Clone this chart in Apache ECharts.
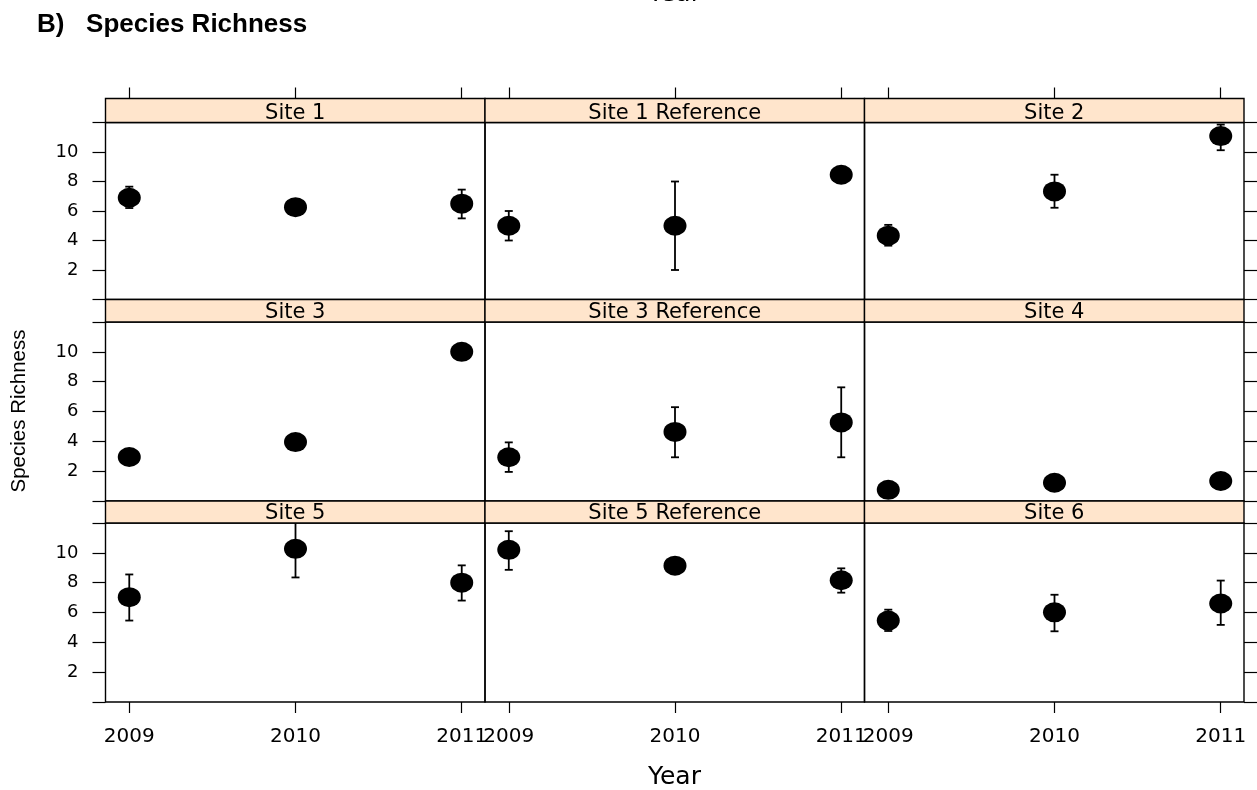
<!DOCTYPE html>
<html>
<head>
<meta charset="utf-8">
<title>Species Richness</title>
<script src="https://cdn.jsdelivr.net/npm/echarts@6/dist/echarts.min.js"></script>
<style>
    html, body {margin: 0; padding: 0; background: #fff;}
    #species_richness {width: 1257px; height: 790px;}
</style>
</head>
<body>
<div id="species_richness"></div>
<script>
var years = [2009, 2010, 2011];
var sites = ['Site 1', 'Site 1 Reference', 'Site 2',
             'Site 3', 'Site 3 Reference', 'Site 4',
             'Site 5', 'Site 5 Reference', 'Site 6'];

// mean species richness per site and year, with lower / upper error bar ends
var richness_mean = [
    [6.9, 6.26, 6.5], [5.0, 5.0, 8.46], [4.33, 7.33, 11.08],
    [2.95, 3.95, 10.0], [2.93, 4.63, 5.27], [0.75, 1.22, 1.34],
    [7.03, 10.27, 8.0], [10.2, 9.14, 8.16], [5.46, 6.01, 6.6]
];
var richness_low = [
    [6.2, 6.0, 5.5], [4.0, 2.0, 8.25], [3.65, 6.22, 10.12],
    [2.75, 3.75, 9.8], [1.95, 2.93, 2.93], [0.55, 1.0, 1.1],
    [5.46, 8.35, 6.8], [8.86, 8.9, 7.33], [4.76, 4.74, 5.17]
];
var richness_high = [
    [7.65, 6.5, 7.45], [6.0, 8.0, 8.65], [5.06, 8.46, 11.86],
    [3.15, 4.15, 10.2], [3.93, 6.29, 7.62], [0.95, 1.45, 1.6],
    [8.55, 12.2, 9.16], [11.45, 9.4, 8.96], [6.19, 7.19, 8.14]
];
var y_ticks = [0, 2, 4, 6, 8, 10, 12];
var y_labels = [2, 4, 6, 8, 10];

var richness_dom = document.getElementById('species_richness');
var richness_chart = echarts.init(richness_dom);

// trellis layout, 3 x 3 panels with a strip on top of each
var col_left = 105.5, col_width = 379.5;
var strip_top = [98.5, 299.5, 501];
var panel_top = [122.5, 322, 523];
var panel_height = [177, 179, 179];
var x_min = 2008.857, x_max = 2011.14;
var font = 'DejaVu Sans';
var line_black = {color: '#000', width: 1.2};

var grids = [], x_axes = [], y_axes = [], series = [], graphics = [];

function render_error_bar(params, api) {
    var x = api.value(0);
    var lo = api.coord([x, api.value(1)]);
    var hi = api.coord([x, api.value(2)]);
    var box = params.coordSys;
    var top = Math.max(hi[1], box.y);
    var bottom = Math.min(lo[1], box.y + box.height);
    var cap = 4;
    var style = {stroke: '#000', lineWidth: 1.8};
    var children = [{type: 'line', shape: {x1: lo[0], y1: top, x2: lo[0], y2: bottom}, style: style}];
    if (hi[1] >= box.y) {
        children.push({type: 'line', shape: {x1: hi[0] - cap, y1: hi[1], x2: hi[0] + cap, y2: hi[1]}, style: style});
    }
    if (lo[1] <= box.y + box.height) {
        children.push({type: 'line', shape: {x1: lo[0] - cap, y1: lo[1], x2: lo[0] + cap, y2: lo[1]}, style: style});
    }
    return {type: 'group', children: children};
}

function plain_year(v) {
    return String(Math.round(v));
}

sites.forEach(function (site, i) {
    var row = Math.floor(i / 3), col = i % 3;
    var left = col_left + col * col_width;

    // panel
    var g = grids.length;
    grids.push({
        left: left, top: panel_top[row], width: col_width, height: panel_height[row],
        show: true, borderColor: '#000', borderWidth: 1.4, backgroundColor: 'transparent'
    });
    var xi = x_axes.length;
    x_axes.push({
        gridIndex: g, type: 'value', min: x_min, max: x_max, position: 'bottom',
        axisLine: {show: false, onZero: false},
        axisTick: {show: row === 2, customValues: years, length: 11, lineStyle: line_black},
        axisLabel: {show: row === 2, customValues: years, formatter: plain_year, margin: 25,
            fontFamily: font, fontSize: 20, color: '#000'},
        splitLine: {show: false}
    });
    var yi = y_axes.length;
    y_axes.push({
        gridIndex: g, type: 'value', min: 0, max: 12, interval: 2, position: 'left',
        axisLine: {show: false, onZero: false},
        axisTick: {show: col === 0, customValues: y_ticks, length: 13, lineStyle: line_black},
        axisLabel: {show: col === 0, customValues: y_labels, margin: 27, fontFamily: font, fontSize: 18,
            color: '#000', padding: [8, 0, 0, 0]},
        splitLine: {show: false}
    });
    y_axes.push({
        gridIndex: g, type: 'value', min: 0, max: 12, interval: 2, position: 'right',
        axisLine: {show: false, onZero: false},
        axisTick: {show: col === 2, customValues: y_ticks, length: 13, lineStyle: line_black},
        axisLabel: {show: false},
        splitLine: {show: false}
    });

    series.push({
        type: 'custom', xAxisIndex: xi, yAxisIndex: yi, z: 2,
        renderItem: render_error_bar,
        data: years.map(function (yr, k) {
            return [yr, richness_low[i][k], richness_high[i][k]];
        })
    });
    series.push({
        type: 'scatter', name: site, xAxisIndex: xi, yAxisIndex: yi, z: 3,
        symbol: 'circle', symbolSize: [23, 20],
        itemStyle: {color: '#000', opacity: 1},
        data: years.map(function (yr, k) {
            return [yr, richness_mean[i][k]];
        })
    });

    // strip with the site name
    var s = grids.length;
    grids.push({
        left: left, top: strip_top[row], width: col_width, height: panel_top[row] - strip_top[row],
        show: true, borderColor: '#000', borderWidth: 1.4, backgroundColor: '#FFE5CC'
    });
    x_axes.push({
        gridIndex: s, type: 'value', min: x_min, max: x_max, position: 'top',
        axisLine: {show: false, onZero: false},
        axisTick: {show: row === 0, customValues: years, length: 11, lineStyle: line_black},
        axisLabel: {show: false},
        splitLine: {show: false}
    });
    y_axes.push({
        gridIndex: s, type: 'value', min: 0, max: 1, show: false
    });
    graphics.push({
        type: 'text', x: left + col_width / 2, y: panel_top[row] - 9, z: 10,
        style: {text: site, fontFamily: font, fontSize: 21, fill: '#000', align: 'center', verticalAlign: 'middle'}
    });
});

graphics.push({
    type: 'text', x: 37, y: 25,
    style: {text: 'B)   Species Richness', fontFamily: 'Liberation Sans', fontWeight: 'bold', fontSize: 26,
        fill: '#000', align: 'left', verticalAlign: 'middle'}
});
// axis title of the panel above, cut by the page edge
graphics.push({
    type: 'text', x: 674.5, y: -6,
    style: {text: 'Year', fontFamily: font, fontSize: 25, fill: '#000', align: 'center', verticalAlign: 'middle'}
});
graphics.push({
    type: 'text', x: 674.5, y: 777,
    style: {text: 'Year', fontFamily: font, fontSize: 25, fill: '#000', align: 'center', verticalAlign: 'middle'}
});
graphics.push({
    type: 'text', x: 19, y: 411, rotation: Math.PI / 2,
    style: {text: 'Species Richness', fontFamily: 'Liberation Sans', fontSize: 20.5, fill: '#000',
        align: 'center', verticalAlign: 'middle'}
});

richness_chart.setOption({
    animation: false,
    backgroundColor: '#fff',
    grid: grids,
    xAxis: x_axes,
    yAxis: y_axes,
    series: series,
    graphic: graphics
});
</script>
</body>
</html>
